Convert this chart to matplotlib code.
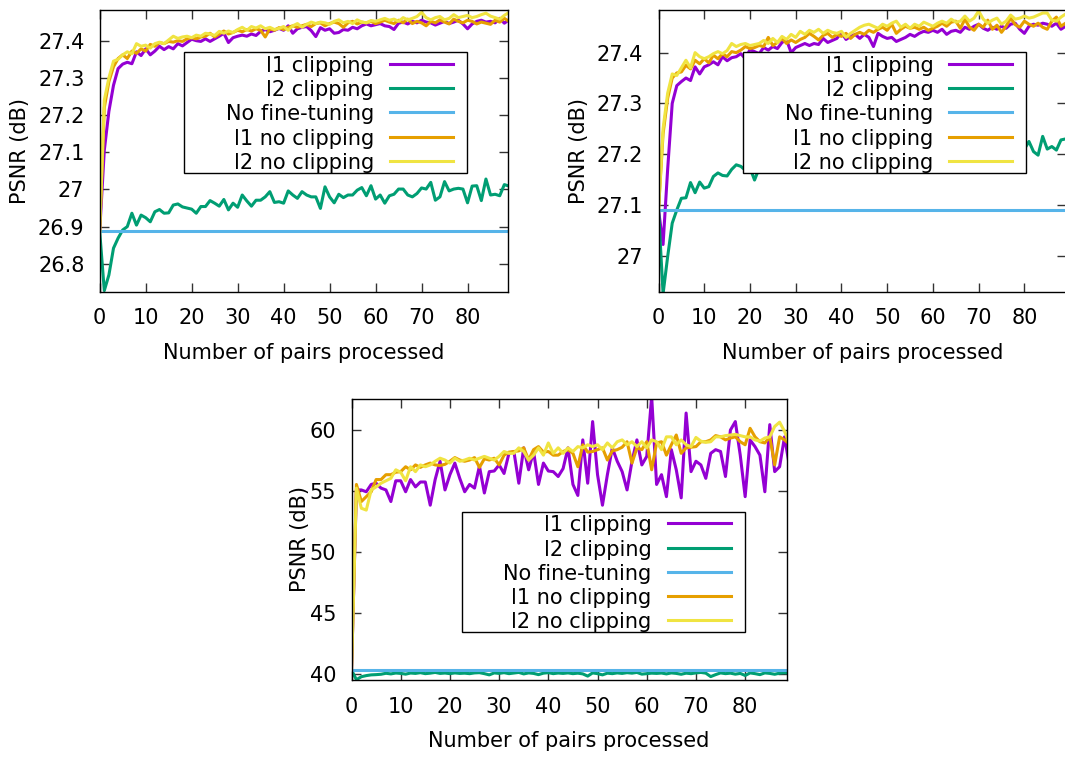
import matplotlib
matplotlib.use("Agg")
import matplotlib.pyplot as plt
from matplotlib.patches import Rectangle
from matplotlib.lines import Line2D
from matplotlib.transforms import Affine2D
from matplotlib.ticker import FuncFormatter

# ---------------------------------------------------------------- data
pairs = list(range(90))

labels = ["l1 clipping", "l2 clipping", "No fine-tuning", "l1 no clipping", "l2 no clipping"]
colors = ["#9400D3", "#009E73", "#56B4E9", "#E69F00", "#F0E442"]

# dataset A
a_l1_clip = [26.888, 27.105, 27.21, 27.28, 27.325, 27.337, 27.342, 27.338, 27.370, 27.360,
             27.378, 27.362, 27.372, 27.385, 27.376, 27.384, 27.378, 27.392, 27.386, 27.395,
             27.404, 27.400, 27.398, 27.405, 27.398, 27.405, 27.412, 27.420, 27.395, 27.408,
             27.412, 27.415, 27.412, 27.418, 27.414, 27.425, 27.430, 27.424, 27.428, 27.433,
             27.428, 27.440, 27.420, 27.432, 27.436, 27.438, 27.427, 27.411, 27.435, 27.428,
             27.432, 27.420, 27.422, 27.430, 27.428, 27.436, 27.432, 27.440, 27.445, 27.440,
             27.443, 27.446, 27.440, 27.438, 27.430, 27.447, 27.450, 27.445, 27.452, 27.448,
             27.455, 27.450, 27.448, 27.442, 27.447, 27.452, 27.446, 27.450, 27.455, 27.445,
             27.432, 27.445, 27.452, 27.455, 27.450, 27.452, 27.448, 27.460, 27.447, 27.456]
a_l2_clip = [26.887, 26.728, 26.770, 26.842, 26.869, 26.891, 26.900, 26.936, 26.904, 26.931,
             26.924, 26.913, 26.940, 26.946, 26.936, 26.937, 26.958, 26.961, 26.953, 26.950,
             26.947, 26.936, 26.954, 26.954, 26.970, 26.963, 26.955, 26.973, 26.945, 26.963,
             26.952, 26.985, 26.969, 26.955, 26.971, 26.971, 26.980, 26.994, 26.965, 26.967,
             26.963, 26.996, 26.985, 26.976, 26.994, 26.985, 26.980, 26.980, 26.949, 27.007,
             26.980, 26.964, 26.987, 26.978, 26.985, 26.985, 26.998, 27.005, 26.983, 27.010,
             26.974, 26.985, 26.963, 26.983, 26.987, 27.001, 27.001, 26.985, 26.980, 26.989,
             27.004, 27.001, 27.019, 26.971, 26.980, 27.021, 26.996, 27.001, 27.003, 27.001,
             26.964, 27.009, 27.010, 26.970, 27.028, 26.985, 26.987, 26.983, 27.013, 27.009]
a_baseline = 26.888
a_l1_noclip = [26.888, 27.22, 27.29, 27.33, 27.352, 27.362, 27.352, 27.372, 27.366, 27.378,
               27.372, 27.390, 27.385, 27.395, 27.392, 27.398, 27.396, 27.400, 27.398, 27.405,
               27.408, 27.405, 27.410, 27.412, 27.420, 27.410, 27.418, 27.426, 27.418, 27.422,
               27.428, 27.424, 27.430, 27.426, 27.432, 27.428, 27.410, 27.432, 27.428, 27.435,
               27.430, 27.436, 27.440, 27.436, 27.440, 27.444, 27.438, 27.446, 27.448, 27.440,
               27.446, 27.450, 27.446, 27.436, 27.448, 27.452, 27.445, 27.450, 27.448, 27.452,
               27.446, 27.450, 27.455, 27.450, 27.446, 27.455, 27.448, 27.458, 27.446, 27.452,
               27.448, 27.440, 27.452, 27.448, 27.456, 27.450, 27.445, 27.458, 27.452, 27.448,
               27.455, 27.452, 27.445, 27.450, 27.447, 27.444, 27.455, 27.450, 27.460, 27.452]
a_l2_noclip = [26.888, 27.24, 27.30, 27.345, 27.350, 27.362, 27.370, 27.365, 27.392, 27.385,
               27.388, 27.380, 27.392, 27.396, 27.392, 27.402, 27.412, 27.406, 27.410, 27.412,
               27.408, 27.415, 27.412, 27.420, 27.418, 27.414, 27.425, 27.420, 27.426, 27.422,
               27.430, 27.436, 27.428, 27.438, 27.434, 27.440, 27.432, 27.436, 27.430, 27.433,
               27.438, 27.428, 27.440, 27.446, 27.436, 27.444, 27.450, 27.446, 27.450, 27.448,
               27.444, 27.452, 27.456, 27.448, 27.452, 27.446, 27.456, 27.450, 27.448, 27.454,
               27.452, 27.456, 27.460, 27.455, 27.458, 27.452, 27.462, 27.456, 27.460, 27.465,
               27.476, 27.462, 27.456, 27.462, 27.465, 27.456, 27.460, 27.470, 27.462, 27.465,
               27.468, 27.462, 27.465, 27.470, 27.474, 27.466, 27.462, 27.458, 27.468, 27.476]

# dataset B
b_l1_clip = [27.090, 27.022, 27.17, 27.30, 27.335, 27.343, 27.350, 27.345, 27.372, 27.358,
             27.372, 27.376, 27.382, 27.376, 27.392, 27.384, 27.390, 27.392, 27.398, 27.388,
             27.406, 27.402, 27.398, 27.410, 27.405, 27.412, 27.408, 27.420, 27.425, 27.400,
             27.410, 27.414, 27.418, 27.414, 27.418, 27.416, 27.428, 27.420, 27.424, 27.428,
             27.440, 27.426, 27.432, 27.436, 27.428, 27.436, 27.430, 27.412, 27.438, 27.432,
             27.428, 27.430, 27.422, 27.426, 27.430, 27.436, 27.432, 27.438, 27.442, 27.440,
             27.444, 27.440, 27.446, 27.436, 27.442, 27.444, 27.440, 27.450, 27.446, 27.452,
             27.456, 27.448, 27.444, 27.450, 27.446, 27.452, 27.448, 27.456, 27.458, 27.446,
             27.438, 27.452, 27.456, 27.454, 27.458, 27.456, 27.452, 27.458, 27.446, 27.452]
b_l2_clip = [27.090, 26.925, 26.998, 27.064, 27.090, 27.113, 27.114, 27.144, 27.124, 27.145,
             27.133, 27.136, 27.156, 27.163, 27.158, 27.157, 27.170, 27.179, 27.176, 27.168,
             27.173, 27.149, 27.172, 27.178, 27.176, 27.182, 27.178, 27.184, 27.180, 27.186,
             27.183, 27.188, 27.185, 27.190, 27.186, 27.192, 27.188, 27.194, 27.190, 27.192,
             27.195, 27.190, 27.196, 27.193, 27.198, 27.194, 27.199, 27.192, 27.200, 27.197,
             27.201, 27.196, 27.202, 27.199, 27.203, 27.198, 27.204, 27.200, 27.205, 27.201,
             27.206, 27.202, 27.207, 27.203, 27.208, 27.204, 27.209, 27.205, 27.210, 27.206,
             27.210, 27.207, 27.211, 27.208, 27.212, 27.209, 27.212, 27.209, 27.213, 27.210,
             27.210, 27.225, 27.205, 27.198, 27.235, 27.210, 27.215, 27.208, 27.228, 27.230]
b_baseline = 27.0895
b_l1_noclip = [27.090, 27.24, 27.31, 27.35, 27.36, 27.362, 27.375, 27.368, 27.385, 27.378,
               27.388, 27.380, 27.395, 27.388, 27.398, 27.392, 27.402, 27.400, 27.405, 27.412,
               27.408, 27.410, 27.414, 27.412, 27.430, 27.414, 27.420, 27.428, 27.418, 27.425,
               27.420, 27.426, 27.430, 27.438, 27.432, 27.425, 27.434, 27.438, 27.430, 27.436,
               27.432, 27.438, 27.428, 27.436, 27.440, 27.436, 27.444, 27.440, 27.446, 27.450,
               27.444, 27.456, 27.438, 27.446, 27.452, 27.448, 27.450, 27.446, 27.450, 27.444,
               27.448, 27.452, 27.458, 27.452, 27.460, 27.462, 27.448, 27.466, 27.450, 27.444,
               27.456, 27.450, 27.464, 27.446, 27.454, 27.440, 27.452, 27.468, 27.455, 27.450,
               27.462, 27.456, 27.452, 27.458, 27.450, 27.446, 27.462, 27.470, 27.452, 27.458]
b_l2_noclip = [27.090, 27.25, 27.32, 27.358, 27.355, 27.370, 27.385, 27.370, 27.400, 27.392,
               27.388, 27.392, 27.398, 27.402, 27.398, 27.404, 27.418, 27.412, 27.416, 27.418,
               27.414, 27.416, 27.418, 27.424, 27.418, 27.428, 27.420, 27.432, 27.426, 27.436,
               27.430, 27.442, 27.436, 27.444, 27.440, 27.446, 27.438, 27.444, 27.440, 27.438,
               27.442, 27.430, 27.438, 27.444, 27.450, 27.454, 27.456, 27.452, 27.448, 27.456,
               27.452, 27.458, 27.462, 27.450, 27.456, 27.448, 27.456, 27.452, 27.460, 27.456,
               27.452, 27.458, 27.462, 27.458, 27.466, 27.460, 27.462, 27.472, 27.462, 27.468,
               27.482, 27.466, 27.458, 27.464, 27.468, 27.456, 27.462, 27.474, 27.466, 27.468,
               27.472, 27.468, 27.470, 27.474, 27.478, 27.478, 27.464, 27.462, 27.470, 27.476]

# dataset C
c_l1_clip = [40.3, 55.05, 55.05, 54.9, 55.5, 55.6, 55.2, 55.05, 54.1, 55.8,
             55.8, 54.9, 55.9, 55.3, 55.7, 55.7, 53.8, 55.9, 57.4, 55.05,
             56.3, 57.25, 56.0, 54.9, 55.5, 55.2, 57.0, 54.8, 56.55, 56.6,
             57.1, 56.4, 58.05, 58.2, 55.6, 58.5, 56.7, 58.2, 55.5, 57.25,
             56.6, 56.55, 56.15, 56.8, 58.5, 55.5, 54.6, 59.15, 55.6, 60.65,
             56.3, 53.8, 56.3, 58.5, 57.4, 56.55, 55.05, 57.4, 59.15, 57.1,
             57.8, 62.7, 55.5, 56.3, 54.5, 58.35, 56.7, 54.4, 61.35, 56.55,
             57.4, 57.1, 56.0, 58.05, 58.35, 58.2, 56.15, 59.95, 60.65, 57.9,
             54.5, 59.15, 58.6, 57.9, 54.9, 60.4, 56.55, 56.95, 59.4, 57.0]
c_l2_clip = [40.3, 39.5, 39.75, 39.84, 39.9, 39.92, 39.95, 40.03, 39.98, 40.05,
             40.02, 39.96, 40.05, 40.02, 40.08, 40.0, 40.04, 40.1, 40.02, 40.05,
             40.0, 40.06, 40.02, 40.04, 40.0, 40.06, 40.08, 40.0, 39.9, 40.06,
             40.02, 40.08, 40.0, 40.05, 40.1, 39.98, 40.06, 40.02, 39.92, 40.04,
             40.08, 40.0, 40.05, 40.02, 40.06, 40.0, 40.04, 39.98, 39.8, 40.06,
             40.0, 39.9, 40.04, 40.0, 40.06, 40.02, 40.08, 40.04, 40.1, 39.96,
             40.0, 40.04, 40.02, 40.05, 39.98, 40.06, 40.02, 39.95, 40.04, 40.0,
             40.06, 40.1, 40.04, 39.76, 39.92, 40.06, 40.0, 40.04, 39.96, 40.02,
             39.85, 40.06, 40.0, 39.92, 40.06, 40.02, 39.95, 40.04, 40.08, 40.04]
c_baseline = 40.3
c_l1_noclip = [40.3, 55.5, 54.1, 54.5, 54.9, 55.9, 55.9, 56.3, 56.3, 56.5,
               56.55, 56.95, 56.7, 57.1, 56.9, 57.1, 57.25, 57.1, 57.05, 57.15,
               57.4, 57.7, 57.5, 57.4, 57.5, 57.7, 56.9, 57.6, 57.5, 57.65,
               57.1, 57.9, 58.15, 58.2, 58.25, 58.5, 57.5, 58.35, 58.6, 58.15,
               58.2, 57.9, 57.9, 58.2, 58.35, 58.05, 56.95, 58.75, 58.15, 58.2,
               58.35, 58.5, 57.5, 58.25, 58.35, 58.55, 59.0, 57.25, 58.5, 58.35,
               59.0, 56.7, 58.9, 59.0, 57.9, 58.75, 59.55, 58.05, 58.5, 58.55,
               58.6, 59.0, 59.0, 59.15, 59.5, 59.4, 59.15, 59.3, 59.4, 59.0,
               58.75, 60.1, 59.4, 59.0, 58.9, 59.4, 57.1, 59.4, 59.15, 58.8]
c_l2_noclip = [40.3, 55.2, 53.55, 53.4, 55.05, 55.3, 55.6, 55.8, 56.0, 56.7,
               56.5, 55.8, 56.95, 56.55, 57.1, 56.95, 57.1, 57.4, 57.65, 57.5,
               57.25, 57.65, 57.4, 57.5, 57.65, 57.5, 57.65, 57.8, 57.65, 57.5,
               57.8, 58.2, 58.05, 58.05, 58.5, 58.2, 57.5, 57.9, 58.5, 57.9,
               58.9, 58.05, 58.5, 58.05, 58.5, 58.2, 58.6, 58.5, 58.75, 58.6,
               58.75, 58.35, 58.9, 58.5, 59.0, 59.15, 58.75, 59.0, 58.6, 59.0,
               58.5, 59.15, 59.0, 58.35, 59.4, 59.4, 58.75, 59.15, 58.75, 58.6,
               59.35, 59.05, 58.95, 59.0, 59.4, 59.4, 59.5, 59.55, 59.6, 59.5,
               59.4, 59.4, 59.15, 59.05, 59.3, 59.4, 60.25, 60.6, 59.85, 58.8]

yticks_a = [26.8, 26.9, 27.0, 27.1, 27.2, 27.3, 27.4]
yticks_b = [27.0, 27.1, 27.2, 27.3, 27.4]
yticks_c = [40, 45, 50, 55, 60]
xticks = [0, 10, 20, 30, 40, 50, 60, 70, 80]

# ---------------------------------------------------------------- style
W, H = 1065, 758
FS = 15
LW = 2.2
plt.rcParams["font.family"] = ["DejaVu Sans"]

fig = plt.figure(figsize=(W / 100, H / 100), dpi=100)
# pixel coordinates measured from the upper-left corner of the canvas
px = Affine2D().scale(1 / W, -1 / H).translate(0, 1) + fig.transFigure


def add_panel(rect_px, xmax, ylim, yticks, series, baseline, legend_xy):
    left, top, right, bottom = rect_px
    ax = fig.add_axes([left / W, 1 - bottom / H, (right - left) / W, (bottom - top) / H])
    l1c, l2c, l1n, l2n = series
    ax.plot(pairs, l1c, color=colors[0], lw=LW)
    ax.plot(pairs, l2c, color=colors[1], lw=LW)
    ax.axhline(baseline, color=colors[2], lw=LW)
    ax.plot(pairs, l1n, color=colors[3], lw=LW)
    ax.plot(pairs, l2n, color=colors[4], lw=LW)
    ax.set_xlim(0, xmax)
    ax.set_ylim(*ylim)
    ax.set_xticks(xticks)
    ax.set_yticks(yticks)
    ax.yaxis.set_major_formatter(FuncFormatter(lambda v, p: f"{v:g}"))
    ax.tick_params(direction="in", length=6.5, width=1.0, color="#333333",
                   top=True, right=True, labelsize=FS)
    ax.tick_params(axis="x", pad=12.0)
    ax.tick_params(axis="y", pad=11)
    for s in ax.spines.values():
        s.set_linewidth(1.0)
    ax.set_xlabel("Number of pairs processed", fontsize=FS)
    ax.set_ylabel("PSNR (dB)", fontsize=FS)
    ax.xaxis.label.set_va("center")
    ax.yaxis.label.set_va("center")
    ax.xaxis.set_label_coords(0.5, -0.218)
    ylab_x = (legend_xy[2] - left) / (right - left)
    ax.yaxis.set_label_coords(ylab_x, 0.5)

    # key box
    lx, ly = legend_xy[0], legend_xy[1]
    fig.add_artist(Rectangle((lx, ly), 283, 120.7, transform=px, facecolor="white",
                             edgecolor="black", lw=1.0, zorder=10))
    for k, (lab, col) in enumerate(zip(labels, colors)):
        yc = ly + 11.5 + 24.3 * k
        fig.text(lx + 190, yc + 2.0, lab, transform=px, ha="right", va="center",
                 fontsize=FS, zorder=11)
        fig.add_artist(Line2D([lx + 206, lx + 269], [yc, yc], transform=px,
                              color=col, lw=LW, zorder=11))
    return ax


add_panel((99.7, 10, 508, 291.7), 88.8, (26.725, 27.4825), yticks_a,
          (a_l1_clip, a_l2_clip, a_l1_noclip, a_l2_noclip), a_baseline, (184, 52.3, 20))
add_panel((658.5, 10, 1066, 291.7), 89.1, (26.929, 27.484), yticks_b,
          (b_l1_clip, b_l2_clip, b_l1_noclip, b_l2_noclip), b_baseline, (743.3, 52.3, 579))
add_panel((351.5, 399, 786.5, 680), 88.4, (39.48, 62.5), yticks_c,
          (c_l1_clip, c_l2_clip, c_l1_noclip, c_l2_noclip), c_baseline, (461.7, 511.7, 300))

fig.savefig("out.png", dpi=100)
